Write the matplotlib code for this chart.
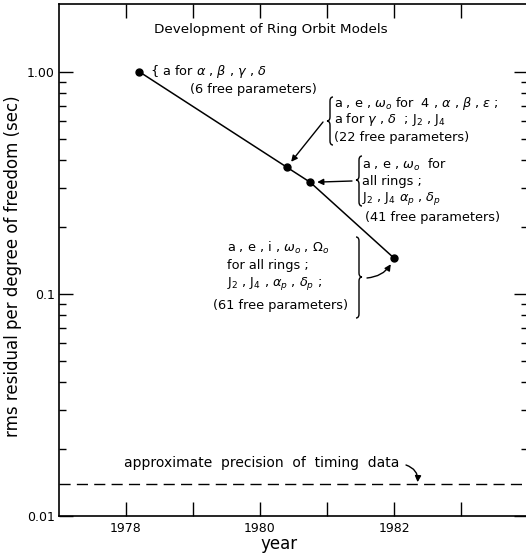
import matplotlib
matplotlib.use("Agg")
import matplotlib.pyplot as plt
from matplotlib.path import Path
from matplotlib.patches import PathPatch
from matplotlib.ticker import FixedLocator, FixedFormatter, NullFormatter

# Model fits: epoch of each solution and its rms residual per degree of freedom
years = [1978.2, 1980.4, 1980.75, 1982.0]
rms = [1.0, 0.372, 0.318, 0.145]
timing_precision = 0.014

x_ticks = [1978, 1979, 1980, 1981, 1982, 1983]
x_ticklabels = ["1978", "", "1980", "", "1982", ""]
y_ticks = [0.01, 0.1, 1.0]
y_ticklabels = ["0.01", "0.1", "1.00"]

W, H = 526, 553
fig = plt.figure(figsize=(W / 100, H / 100), dpi=100)
plt.rcParams["font.family"] = ["DejaVu Sans"]
plt.rcParams["mathtext.fontset"] = "dejavusans"

# axes frame in pixel terms: left spine at x=59, bottom spine at y=516, top at y=4
L, R, T, B = 59, 528, 4, 516
ax = fig.add_axes([L / W, 1 - B / H, (R - L) / W, (B - T) / H])

ax.set_xlim(1977, 1984)
ax.set_yscale("log")
ax.set_ylim(0.01, 2.02)

ax.plot(years, rms, "-", color="black", lw=1.1, marker="o", ms=5,
        markerfacecolor="black", markeredgecolor="black", zorder=3)
ax.axhline(timing_precision, color="black", lw=1.0, ls=(0, (8, 4.5)))

# ticks
ax.xaxis.set_major_locator(FixedLocator(x_ticks))
ax.xaxis.set_major_formatter(FixedFormatter(x_ticklabels))
ax.yaxis.set_major_locator(FixedLocator(y_ticks))
ax.yaxis.set_major_formatter(FixedFormatter(y_ticklabels))
minor_y = [k * 0.1 for k in range(2, 10)] + [k * 0.01 for k in range(2, 10)]
ax.yaxis.set_minor_locator(FixedLocator(minor_y))
ax.yaxis.set_minor_formatter(NullFormatter())
ax.xaxis.set_minor_locator(FixedLocator([]))

ax.tick_params(axis="x", which="major", direction="in", length=10, width=1.0,
               top=True, bottom=True, labelsize=9, pad=4)
ax.tick_params(axis="y", which="major", direction="in", length=10, width=1.0,
               left=True, right=True, labelsize=9, pad=3)
ax.tick_params(axis="y", which="minor", direction="in", length=5, width=1.0,
               left=True, right=True)
for s in ax.spines.values():
    s.set_linewidth(1.2)
ax.spines["right"].set_visible(False)

ax.set_ylabel("rms residual per degree of freedom (sec)", fontsize=12)
ax.set_xlabel("year", fontsize=12)
ax.yaxis.set_label_coords((22 - L) / (R - L), (B - 266) / (B - T))
ax.xaxis.set_label_coords((279 - L) / (R - L), (B - 535) / (B - T))


def pos(x, y):
    """pixel position (from top-left) -> axes fraction"""
    return ((x - L) / (R - L), (B - y) / (B - T))


def label(x, y, s, size=9.3, ha="left"):
    ax.text(*pos(x, y), s, transform=ax.transAxes, fontsize=size,
            ha=ha, va="center", color="black")


def brace(x_tip, y_top, y_bot, width=6, y_mid=None, facing="left"):
    """draw a curly brace with its point at x_tip"""
    if y_mid is None:
        y_mid = (y_top + y_bot) / 2
    sgn = 1 if facing == "left" else -1
    xe = x_tip + sgn * width
    xm = x_tip + sgn * width / 2
    r = 4
    verts = [(xe, y_top), (xm, y_top), (xm, y_top + r),
             (xm, y_mid - r), (xm, y_mid), (x_tip, y_mid),
             (xm, y_mid), (xm, y_mid + r),
             (xm, y_bot - r), (xm, y_bot), (xe, y_bot)]
    codes = [Path.MOVETO, Path.CURVE3, Path.CURVE3,
             Path.LINETO, Path.CURVE3, Path.CURVE3,
             Path.CURVE3, Path.CURVE3,
             Path.LINETO, Path.CURVE3, Path.CURVE3]
    verts = [pos(vx, vy) for vx, vy in verts]
    ax.add_patch(PathPatch(Path(verts, codes), transform=ax.transAxes,
                           fill=False, lw=1.0, color="black", clip_on=False))


def pointer(x, y, i, rad=0.0, shrink=4):
    ax.annotate("", xy=(years[i], rms[i]), xycoords="data",
                xytext=pos(x, y), textcoords="axes fraction",
                arrowprops=dict(arrowstyle="-|>", color="black", lw=1.0,
                                mutation_scale=9, shrinkA=0, shrinkB=shrink,
                                connectionstyle=f"arc3,rad={rad}"))


# title
label(154, 30, "Development of Ring Orbit Models", size=9.7)

# first model
label(150, 71, r"{ a for $\alpha$ , $\beta$ , $\gamma$ , $\delta$")
label(190, 90, "(6 free parameters)")

# second model
brace(327, 97, 145, y_mid=121)
label(334, 103, r"a , e , $\omega_o$ for  4 , $\alpha$ , $\beta$ , $\epsilon$ ;")
label(334, 120, r"a for $\gamma$ , $\delta$  ; J$_2$ , J$_4$")
label(334, 137, "(22 free parameters)")
pointer(323, 122, 1, shrink=5)

# third model
brace(356, 156, 206, y_mid=180)
label(362, 165, r"a , e , $\omega_o$  for")
label(362, 182, "all rings ;")
label(362, 199, r"J$_2$ , J$_4$ $\alpha_p$ , $\delta_p$")
label(365, 218, "(41 free parameters)")
pointer(352, 181, 2, shrink=5)

# fourth model
label(227, 248, r"a , e , i , $\omega_o$ , $\Omega_o$")
label(227, 266, "for all rings ;")
label(227, 284, r"J$_2$ , J$_4$ , $\alpha_p$ , $\delta_p$ ;")
label(213, 306, "(61 free parameters)")
brace(362, 237, 318, y_mid=277, facing="right")
pointer(367, 278, 3, rad=0.3, shrink=5)

# timing precision note
label(124, 463, "approximate  precision  of  timing  data", size=10)
ax.annotate("", xy=(1982.35, timing_precision), xycoords="data",
            xytext=pos(406, 465), textcoords="axes fraction",
            arrowprops=dict(arrowstyle="-|>", color="black", lw=1.0,
                            mutation_scale=9, shrinkA=0, shrinkB=1,
                            connectionstyle="arc3,rad=-0.4"))

fig.savefig("out.png", dpi=100)
